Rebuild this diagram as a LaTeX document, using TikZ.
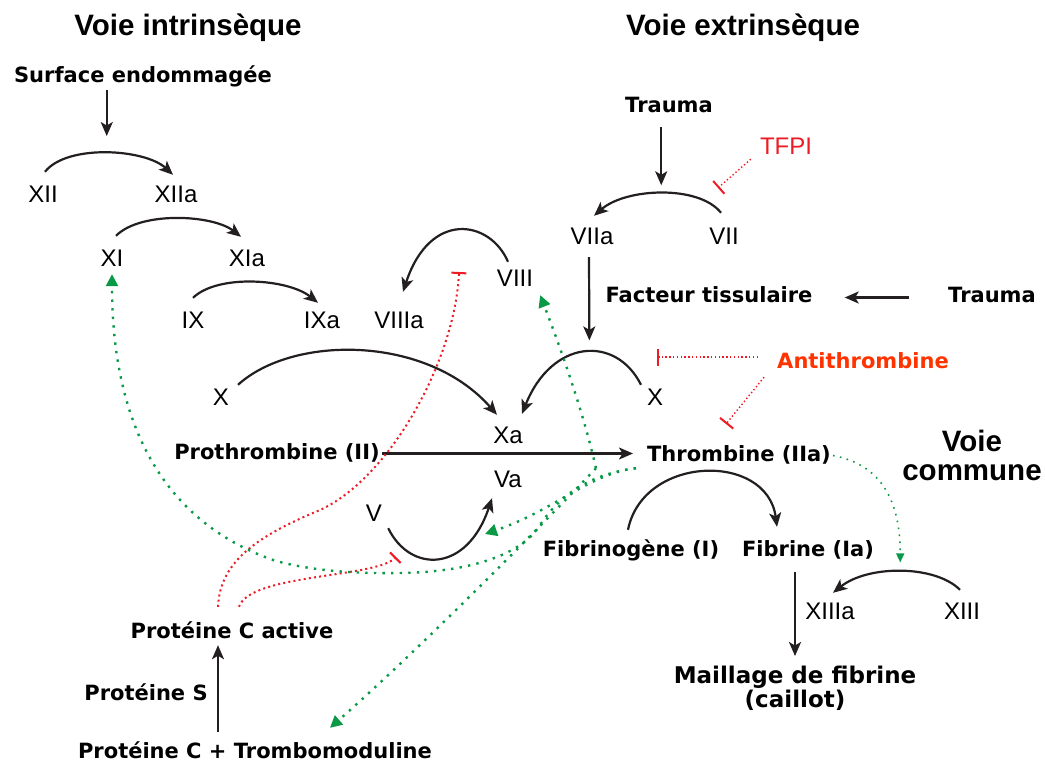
\documentclass[tikz,border=0pt]{standalone}
\usepackage{fontspec}
\setmainfont{DejaVu Sans}
\newfontfamily\arialfont{Liberation Sans}
\usetikzlibrary{arrows.meta,calc}
\definecolor{ink}{HTML}{231F20}
\definecolor{inhib}{HTML}{ED1C24}
\definecolor{anticol}{HTML}{FF3300}
\definecolor{actv}{HTML}{0A9A47}

\begin{document}
\begin{tikzpicture}[x=1pt,y=-1pt,
  title/.style={font=\arialfont\bfseries\fontsize{29.5}{29}\selectfont,inner sep=2pt,anchor=base},
  lbl/.style={font=\bfseries\fontsize{21}{24}\selectfont,text height=16pt,text depth=5pt,inner sep=2pt,anchor=base},
  fac/.style={font=\arialfont\fontsize{24}{28}\selectfont,text height=17pt,text depth=0pt,inner sep=2pt,anchor=base},
  conv/.style={-{Stealth[length=14pt,width=12pt,inset=3.5pt]},line width=2.2pt,color=ink},
  inh/.style={-{Bar[width=17pt,line width=2pt]},line width=1.4pt,color=inhib,dash pattern=on 1.4pt off 2.4pt},
  inhpc/.style={-{Bar[width=15pt,line width=2pt]},line width=2pt,color=inhib,dash pattern=on 2pt off 3.2pt},
  act/.style={-{Triangle[length=12pt,width=12pt]},line width=2.4pt,color=actv,dash pattern=on 2.4pt off 6.2pt},
  actfine/.style={-{Triangle[length=9pt,width=8pt]},line width=1.6pt,color=actv,dash pattern=on 1.6pt off 5.4pt}]
\useasboundingbox (0,0) rectangle (1045,762);

\node[title] (tIn) at (188,36) {Voie intrinsèque};
\node[title] (tEx) at (743,36) {Voie extrinsèque};
\node[title,anchor=center,align=center] (tCom) at (972,455) {Voie\\commune};

\node[lbl] (surf) at (143,83) {Surface endommagée};
\node[lbl] (trA) at (669,113) {Trauma};
\node[lbl] (facteur) at (709,303) {Facteur tissulaire};
\node[lbl] (trB) at (992,303) {Trauma};
\node[lbl,text=anticol] (anti) at (863,368) {Antithrombine};
\node[lbl] (proth) at (277,459) {Prothrombine (II)};
\node[lbl] (thromb) at (739,461) {Thrombine (IIa)};
\node[lbl] (fibgn) at (631,556) {Fibrinogène (I)};
\node[lbl] (fib) at (808,556) {Fibrine (Ia)};
\node[font=\bfseries\fontsize{23}{24}\selectfont,align=center,inner sep=2pt] (maill) at (795,688.5) {Maillage de fibrine\\(caillot)};
\node[lbl] (pca) at (232,638) {Protéine C active};
\node[lbl] (ps) at (146,700) {Protéine S};
\node[lbl] (pctm) at (255,758) {Protéine C + Trombomoduline};

\node[fac] (xii) at (43,203) {XII};
\node[fac] (xiia) at (176,203) {XIIa};
\node[fac] (xi) at (112,267) {XI};
\node[fac] (xia) at (247,267) {XIa};
\node[fac] (ix) at (193,328) {IX};
\node[fac] (ixa) at (322,328) {IXa};
\node[fac] (viiia) at (399,328) {VIIIa};
\node[fac] (viii) at (515,287) {VIII};
\node[fac] (viia) at (592,245) {VIIa};
\node[fac] (vii) at (724,245) {VII};
\node[fac] (xl) at (221,405) {X};
\node[fac] (xr) at (655,405) {X};
\node[fac] (xa) at (508,443) {Xa};
\node[fac] (va) at (508,487) {Va};
\node[fac] (v) at (374,521) {V};
\node[fac] (xiiia) at (830,619) {XIIIa};
\node[fac] (xiii) at (962,619) {XIII};
\node[fac,text=inhib] (tfpi) at (786,155) {TFPI};

\coordinate (tfT) at (718,188);
\coordinate (atA) at (657,357);
\coordinate (atB) at (726,424);
\coordinate (pcT1) at (459,272);
\coordinate (pcT2) at (396,557);
\coordinate (vaT) at (485,534);

\draw[conv] ([xshift=2,yshift=12]xii.north) .. controls +(22,-28) and +(-28,-26) .. ([xshift=-3,yshift=9]xiia.north) coordinate[pos=.5] (m12);
\draw[conv] ([xshift=4,yshift=12]xi.north) .. controls +(25,-25) and +(-28,-22) .. ([xshift=-6,yshift=11]xia.north);
\draw[conv] ([yshift=11]ix.north) .. controls +(25,-24) and +(-30,-24) .. ([xshift=-4,yshift=6]ixa.north);
\draw[conv] ([xshift=17,yshift=1]xl.north) .. controls +(55,-50) and +(-70,-80) .. ([xshift=-11,yshift=9]xa.north);
\draw[conv] ([xshift=-7,yshift=6]viii.north) .. controls +(-18,-42) and +(27,-82) .. ([xshift=4,yshift=17]viiia.north);
\draw[conv] ([xshift=-3,yshift=13]vii.north) .. controls +(-22,-28) and +(32,-28) .. ([xshift=2,yshift=10]viia.north) coordinate[pos=.5] (m7);
\draw[conv] ([xshift=-14,yshift=1]xr.north) .. controls +(-25,-50) and +(30,-75) .. ([xshift=14,yshift=10]xa.north) coordinate[pos=.5] (m10);
\draw[conv] ([xshift=-3,yshift=8]fibgn.north) .. controls +(15,-75) and +(-10,-75) .. ([xshift=-31,yshift=11]fib.north);
\draw[conv] ([xshift=-2,yshift=10]xiii.north) .. controls +(-25,-25) and +(35,-28) .. ([xshift=3,yshift=7]xiiia.north) coordinate[pos=.5] (m13);
\draw[conv] ([xshift=4,yshift=-5]v.south east) .. controls +(22,45) and +(-25,75) .. ([yshift=-9]va.south west);

\draw[conv] (surf.south -| m12) -- ([yshift=17]m12);
\draw[conv,shorten <=7pt] (trA.south -| m7) -- ([yshift=8]m7);
\draw[conv] ([xshift=-3,yshift=-10]viia.south) -- ([xshift=6,yshift=12]m10);
\draw[conv,shorten <=37pt,shorten >=30pt] (trB.west) -- (facteur.east);
\draw[conv,shorten >=12pt] (proth.east) -- (proth.east -| thromb.west);
\draw[conv,shorten <=9pt,shorten >=8pt] (fib.south -| maill.north) -- (maill.north);
\draw[conv,shorten <=8pt] ($(pca.south |- pctm.north)+(-14,0)$) -- ([xshift=-14]pca.south);

\draw[inh] ([xshift=-7,yshift=-2]tfpi.south west) -- (tfT);
\draw[inh] ([xshift=-17,yshift=5.5]anti.west) -- (atA);
\draw[inh] ([xshift=-11,yshift=-2]anti.south west) -- (atB);
\draw[inhpc] ([xshift=-14,yshift=13]pca.north) .. controls (220,560) and (260,535) .. (320,510) .. controls (390,478) and (455,360) .. (pcT1);
\draw[inhpc] ([xshift=7,yshift=13]pca.north) .. controls +(11,-33) and +(-21,21) .. (pcT2);

\draw[act] ([xshift=-49]thromb.south west) .. controls +(-11,-49) and +(25,65) .. ([xshift=5,yshift=-6]viii.south east);
\draw[act] ([xshift=-49]thromb.south west) .. controls +(-34,36) and +(100,-88) .. ([xshift=75,yshift=12]pctm.north);
\draw[act] ([xshift=-9]thromb.south west) .. controls +(-46,5) and +(70,-24) .. (vaT);
\draw[act] ([xshift=-9]thromb.south west) .. controls (590,474) and (560,495) .. (540,525) .. controls (525,550) and (480,572) .. (400,573) .. controls (340,574) and (300,568) .. (273,560) .. controls (160,520) and (112,420) .. ([yshift=-5]xi.south);
\draw[actfine] (thromb.east) .. controls +(48,9) and +(0,-62) .. ([yshift=9]m13);
\end{tikzpicture}
\end{document}
